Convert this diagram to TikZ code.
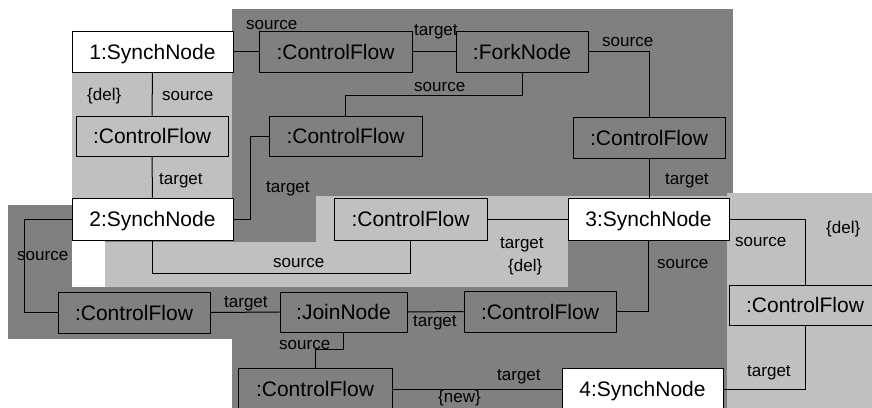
\documentclass[tikz,border=0pt]{standalone}
\usepackage{fontspec}
\setmainfont{Liberation Sans}
\definecolor{dk}{RGB}{128,128,128}
\definecolor{lt}{RGB}{192,192,192}
\tikzset{
  box/.style={draw=black, line width=1pt, inner sep=0pt, font=\fontsize{21}{21}\selectfont, text height=15pt, text depth=0pt},
  synch/.style={box, fill=white, minimum width=161pt, minimum height=41pt},
  cflow/.style={box, minimum width=152pt, minimum height=41pt},
  lbl/.style={font=\fontsize{17}{17}\selectfont, inner sep=0pt, anchor=base west},
  conn/.style={draw=black, line width=1pt},
}
\begin{document}
\begin{tikzpicture}[x=1pt,y=-1pt]
\useasboundingbox (0,0) rectangle (872,407);
\clip (0,0) rectangle (872,407);
% background regions
\fill[dk] (232,9) rectangle (733,196);
\fill[dk] (232,196) rectangle (316,242);
\fill[dk] (8,205) rectangle (232,339);
\fill[dk] (232,287) rectangle (727,420);
\fill[lt] (72,72) rectangle (232,198);
\fill[lt] (105,242) rectangle (568,287);
\fill[lt] (316,196) rectangle (733,242);
\fill[lt] (727,193) rectangle (880,420);
\fill[dk] (568,240) rectangle (727,287);
\fill[white] (72,240) rectangle (105,287);
% nodes
\node[synch] (s1) at (152.5,51.5) {1:SynchNode};
\node[cflow, minimum height=40pt] (cf1) at (152,136) {:ControlFlow};
\node[synch, minimum height=42pt] (s2) at (152.5,219) {2:SynchNode};
\node[cflow, minimum width=153pt] (cf2) at (335.5,51.5) {:ControlFlow};
\node[box, minimum width=132pt, minimum height=41pt] (fork) at (522,51.5) {:ForkNode};
\node[cflow, minimum width=153pt, minimum height=40pt] (cf3) at (345.5,136) {:ControlFlow};
\node[cflow] (cf4) at (649,137.5) {:ControlFlow};
\node[synch, minimum height=42pt] (s3) at (648.5,219) {3:SynchNode};
\node[cflow, minimum width=153pt, minimum height=42pt] (cf5) at (410.5,219) {:ControlFlow};
\node[cflow] (cf6) at (134,312.5) {:ControlFlow};
\node[box, minimum width=127pt, minimum height=40pt] (jn) at (343.5,312) {:JoinNode};
\node[cflow] (cf7) at (540,311.5) {:ControlFlow};
\node[cflow, minimum width=154pt, minimum height=42pt] (cf8) at (315,389) {:ControlFlow};
\node[synch, minimum height=42pt] (s4) at (642.5,389) {4:SynchNode};
\node[cflow, minimum height=40pt] (cf9) at (805,305) {:ControlFlow};
% connectors
\draw[conn] (s1.east) -- (cf2.west);
\draw[conn] (cf2.east) -- (fork.west);
\draw[conn] (fork.south) -- (fork.south |- 0,95) -| (cf3.north);
\draw[conn] (fork.east) -| (cf4.north);
\draw[conn] (cf4.south) -- (cf4.south |- s3.north);
\draw[conn] (cf3.west) -- ++(-18,0) |- (s2.east);
\draw[conn] (s1.south) -- (cf1.north);
\draw[conn] (cf1.south) -- (s2.north);
\draw[conn] (s2.south) -- (s2.south |- 0,273) -| (cf5.south);
\draw[conn] (cf5.east) -- (s3.west);
\draw[conn] (s2.west) -- ++(-47,0) |- (cf6.west);
\draw[conn] (cf6.east) -- (jn.west);
\draw[conn] (jn.east) -- (cf7.west);
\draw[conn] (cf7.east) -| (s3.south);
\draw[conn] (jn.south) -- (jn.south |- 0,349) -| (cf8.north);
\draw[conn] (cf8.east) -- (s4.west);
\draw[conn] (s3.east) -| (cf9.north);
\draw[conn] (cf9.south) |- (s4.east);
% labels
\node[lbl] (l1) at (246,29) {source};
\node[lbl] (l2) at (414,35) {target};
\node[lbl] (l3) at (414,91) {source};
\node[lbl] (l4) at (602,46) {source};
\node[lbl] (l5) at (665,184) {target};
\node[lbl] (l6) at (266,192) {target};
\node[lbl] (l7) at (87,100) {\{del\}};
\node[lbl] (l8) at (162,100) {source};
\node[lbl] (l9) at (159,184) {target};
\node[lbl] (l10) at (17,260) {source};
\node[lbl] (l11) at (273,267) {source};
\node[lbl] (l12) at (224,307) {target};
\node[lbl] (l13) at (500,248) {target};
\node[lbl] (l14) at (508,271) {\{del\}};
\node[lbl] (l15) at (413,326) {target};
\node[lbl] (l16) at (279,349) {source};
\node[lbl] (l17) at (497,380) {target};
\node[lbl] (l18) at (438,402) {\{new\}};
\node[lbl] (l19) at (657,268) {source};
\node[lbl] (l20) at (735,246) {source};
\node[lbl] (l21) at (826,233) {\{del\}};
\node[lbl] (l22) at (747,376) {target};
\end{tikzpicture}
\end{document}
